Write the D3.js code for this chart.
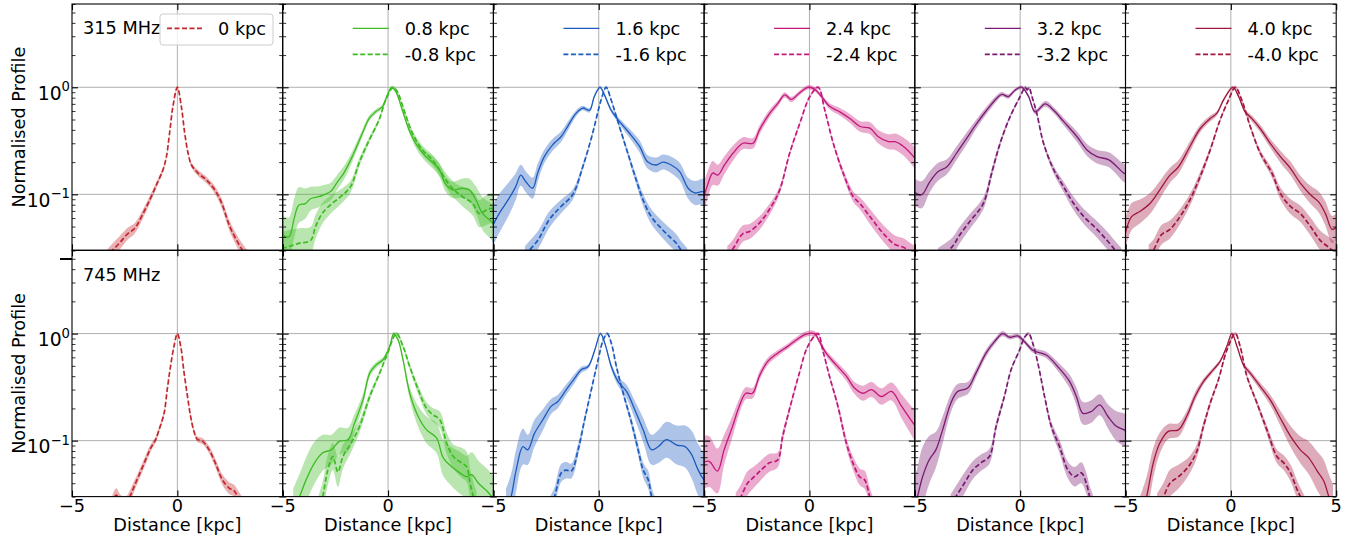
<!DOCTYPE html>
<html><head><meta charset="utf-8">
<script src="https://cdn.jsdelivr.net/npm/d3@7"></script>
<style>body{margin:0;background:#fff}svg{display:block;font-family:"DejaVu Sans",sans-serif}</style>
</head><body><svg id="c" width="1362" height="541"></svg>
<script>
// ---------- labels / categories ----------
const rowLabels = ["315 MHz", "745 MHz"];
const posLabels = ["0 kpc", "0.8 kpc", "1.6 kpc", "2.4 kpc", "3.2 kpc", "4.0 kpc"];
const negLabels = [null, "-0.8 kpc", "-1.6 kpc", "-2.4 kpc", "-3.2 kpc", "-4.0 kpc"];
const colors = ["#c1272d", "#3dbb22", "#1d5bbf", "#c4177a", "#7b1a72", "#a2173f"];
const xTicks = [-5, 0, 5];
const yMajor = [0.1, 1];
const yMajorLabels = [["10", "\u22121"], ["10", "0"]];
const yMinor = [0.03,0.04,0.05,0.06,0.07,0.08,0.09,0.2,0.3,0.4,0.5,0.6,0.7,0.8,0.9,2,3,4,5,6];
const xLabel = "Distance [kpc]";
const yLabel = "Normalised Profile";

// ---------- data: [distance kpc, normalised profile, band half-width (dex, as read)] ----------
// 315 MHz
const f315_0 = [[-3.4,0.025,.045],[-3.22,0.028,.045],[-2.75,0.035,.045],[-2.35,0.043,.04],[-2.03,0.048,.035],[-1.63,0.066,.03],[-1.24,0.095,.025],[-0.92,0.132,.02],[-0.68,0.17,.015],[-0.52,0.224,.012],[-0.37,0.372,.01],[-0.21,0.66,.01],[0,1,.008],[0.19,0.66,.01],[0.35,0.372,.01],[0.51,0.242,.012],[0.67,0.188,.015],[0.98,0.158,.02],[1.38,0.136,.022],[1.78,0.11,.025],[2.1,0.083,.03],[2.49,0.05,.035],[2.89,0.035,.04],[3.2,0.028,.045],[3.4,0.025,.045]];
const f315_p08 = [[-5.05,0.042,.13],[-4.71,0.040,.13],[-4.45,0.06,.13],[-4.24,0.079,.12],[-3.92,0.082,.1],[-3.68,0.091,.08],[-3.29,0.095,.07],[-3.05,0.099,.065],[-2.73,0.106,.06],[-2.41,0.13,.05],[-2.1,0.158,.045],[-1.7,0.225,.035],[-1.22,0.372,.025],[-0.9,0.51,.02],[-0.59,0.59,.015],[-0.27,0.66,.012],[-0.03,0.85,.01],[0.17,1,.01],[0.37,0.91,.01],[0.68,0.61,.015],[1.0,0.40,.02],[1.4,0.28,.03],[1.8,0.224,.035],[2.1,0.20,.04],[2.43,0.17,.045],[2.75,0.123,.05],[3.06,0.11,.055],[3.54,0.114,.065],[3.86,0.11,.075],[4.17,0.089,.09],[4.49,0.066,.11],[4.89,0.056,.12],[5.05,0.05,.12]];
const f315_m08 = [[-5.05,0.031,.11],[-4.6,0.033,.11],[-4.2,0.035,.1],[-3.68,0.037,.09],[-3.44,0.05,.08],[-3.13,0.066,.07],[-2.73,0.08,.06],[-2.25,0.095,.05],[-1.78,0.118,.04],[-1.38,0.195,.03],[-0.9,0.32,.02],[-0.43,0.495,.015],[-0.11,0.76,.01],[0.24,1,.01],[0.44,0.91,.01],[0.76,0.61,.015],[1.16,0.372,.02],[1.63,0.26,.03],[2.1,0.21,.035],[2.5,0.163,.04],[2.9,0.123,.05],[3.22,0.106,.055],[3.54,0.095,.065],[4.02,0.082,.08],[4.33,0.066,.09],[4.65,0.071,.1],[4.89,0.074,.1],[5.05,0.072,.1]];
const f315_p16 = [[-5.05,0.05,.14],[-4.73,0.066,.13],[-4.25,0.092,.11],[-3.94,0.118,.09],[-3.7,0.151,.07],[-3.46,0.131,.07],[-3.14,0.114,.07],[-2.9,0.158,.06],[-2.59,0.224,.045],[-2.19,0.29,.04],[-1.79,0.345,.035],[-1.48,0.43,.03],[-1.08,0.57,.02],[-0.76,0.64,.015],[-0.44,0.61,.015],[-0.21,0.82,.012],[0.06,1,.01],[0.27,0.85,.012],[0.59,0.61,.015],[0.98,0.48,.02],[1.46,0.372,.03],[1.94,0.28,.04],[2.33,0.20,.045],[2.73,0.188,.05],[3.05,0.20,.05],[3.44,0.188,.055],[3.84,0.163,.06],[4.24,0.114,.07],[4.56,0.103,.08],[4.87,0.106,.085],[5.05,0.105,.09]];
const f315_m16 = [[-3.5,0.027,.06],[-3.3,0.030,.06],[-2.9,0.037,.06],[-2.35,0.058,.055],[-1.79,0.077,.045],[-1.24,0.099,.035],[-0.76,0.18,.02],[-0.29,0.372,.012],[0.11,0.76,.01],[0.35,1,.01],[0.59,0.76,.01],[0.98,0.43,.015],[1.38,0.242,.02],[1.78,0.136,.03],[2.1,0.089,.04],[2.49,0.062,.05],[2.97,0.048,.055],[3.37,0.04,.06],[3.68,0.035,.06],[3.92,0.030,.06],[4.2,0.026,.06]];
const f315_p24 = [[-5.05,0.089,.1],[-4.83,0.123,.09],[-4.59,0.158,.08],[-4.35,0.151,.07],[-4.03,0.188,.06],[-3.63,0.242,.05],[-3.16,0.30,.04],[-2.68,0.30,.035],[-2.37,0.40,.03],[-1.89,0.57,.025],[-1.49,0.71,.02],[-1.17,0.85,.018],[-0.86,0.77,.018],[-0.46,0.89,.015],[-0.06,1,.015],[0.25,0.96,.015],[0.57,0.82,.015],[0.97,0.66,.02],[1.44,0.59,.025],[1.92,0.51,.03],[2.4,0.43,.035],[2.87,0.415,.04],[3.27,0.345,.045],[3.75,0.31,.05],[4.06,0.31,.055],[4.46,0.28,.06],[4.94,0.225,.07],[5.05,0.21,.07]];
const f315_m24 = [[-3.9,0.027,.06],[-3.63,0.031,.06],[-3.16,0.043,.055],[-2.84,0.045,.05],[-2.37,0.054,.045],[-1.81,0.077,.035],[-1.41,0.11,.025],[-0.94,0.242,.015],[-0.46,0.46,.01],[0.02,0.82,.01],[0.41,1,.01],[0.73,0.61,.01],[1.13,0.30,.015],[1.6,0.158,.025],[2.08,0.095,.035],[2.4,0.082,.04],[2.87,0.062,.05],[3.51,0.043,.055],[4.06,0.034,.06],[4.46,0.032,.06],[4.78,0.029,.06],[5.05,0.027,.06]];
const f315_p32 = [[-5.05,0.106,.09],[-4.68,0.099,.09],[-4.29,0.131,.07],[-3.89,0.163,.06],[-3.49,0.18,.05],[-3.02,0.242,.045],[-2.54,0.333,.04],[-2.06,0.46,.03],[-1.59,0.61,.025],[-1.11,0.79,.02],[-0.87,0.86,.015],[-0.56,0.82,.015],[-0.24,0.94,.012],[0.08,1,.012],[0.4,0.82,.012],[0.71,0.59,.015],[1.19,0.70,.02],[1.59,0.61,.02],[2.06,0.48,.025],[2.7,0.345,.035],[3.17,0.26,.04],[3.65,0.225,.045],[4.21,0.21,.05],[4.92,0.158,.06],[5.05,0.155,.06]];
const f315_m32 = [[-3.9,0.026,.06],[-3.25,0.032,.06],[-2.86,0.042,.055],[-2.38,0.056,.05],[-1.75,0.082,.04],[-1.35,0.158,.03],[-0.95,0.30,.02],[-0.48,0.53,.012],[0,0.82,.01],[0.24,1,.01],[0.33,0.95,.01],[0.42,0.99,.01],[0.56,0.82,.01],[0.79,0.57,.012],[1.11,0.30,.015],[1.59,0.17,.025],[2.06,0.118,.035],[2.54,0.082,.045],[3.02,0.062,.05],[3.65,0.047,.055],[4.13,0.037,.06],[4.52,0.030,.06],[4.8,0.026,.06]];
const f315_p40 = [[-5.05,0.040,.1],[-4.71,0.062,.09],[-4.32,0.069,.08],[-3.84,0.082,.07],[-3.37,0.11,.06],[-2.89,0.151,.05],[-2.49,0.18,.045],[-1.94,0.28,.035],[-1.46,0.41,.025],[-0.98,0.51,.02],[-0.67,0.57,.015],[-0.35,0.76,.012],[0.1,1,.01],[0.37,0.82,.012],[0.68,0.59,.015],[1.0,0.51,.02],[1.4,0.41,.025],[1.87,0.30,.03],[2.35,0.225,.04],[2.83,0.175,.045],[3.3,0.127,.05],[3.78,0.099,.06],[4.17,0.085,.07],[4.49,0.066,.08],[4.81,0.047,.09],[5.05,0.05,.09]];
const f315_m40 = [[-3.9,0.027,.07],[-3.68,0.030,.07],[-3.29,0.042,.065],[-2.89,0.047,.06],[-2.41,0.062,.05],[-1.94,0.089,.04],[-1.46,0.146,.03],[-0.98,0.26,.02],[-0.51,0.495,.012],[-0.11,0.76,.01],[0.21,1,.01],[0.52,0.76,.01],[0.92,0.43,.015],[1.4,0.242,.02],[1.95,0.158,.03],[2.35,0.102,.04],[2.83,0.077,.05],[3.3,0.066,.055],[3.78,0.05,.06],[4.25,0.037,.065],[4.73,0.031,.07],[5.05,0.027,.07]];
// 745 MHz
const f745_0 = [[-3.1,0.026,.045],[-2.9,0.031,.045],[-2.7,0.027,.045],[-2.45,0.026,.045],[-2.22,0.031,.04],[-2.06,0.037,.035],[-1.83,0.047,.03],[-1.51,0.066,.03],[-1.27,0.085,.025],[-1.03,0.102,.02],[-0.87,0.126,.018],[-0.63,0.18,.015],[-0.48,0.30,.012],[-0.32,0.50,.01],[-0.16,0.76,.01],[0,1,.008],[0.16,0.76,.01],[0.32,0.43,.01],[0.48,0.26,.012],[0.63,0.168,.015],[0.79,0.122,.015],[0.95,0.103,.018],[1.19,0.099,.02],[1.51,0.082,.025],[1.83,0.06,.03],[2.14,0.043,.035],[2.46,0.036,.04],[2.7,0.034,.04],[2.86,0.030,.045],[3.1,0.025,.05]];
const f745_p08 = [[-4.5,0.022,.15],[-4.2,0.030,.15],[-3.89,0.043,.15],[-3.49,0.062,.14],[-3.1,0.077,.12],[-2.7,0.082,.1],[-2.3,0.099,.09],[-1.9,0.102,.08],[-1.59,0.146,.06],[-1.19,0.24,.04],[-0.87,0.427,.025],[-0.56,0.51,.02],[-0.24,0.57,.015],[0.08,0.76,.012],[0.27,1,.012],[0.48,0.87,.012],[0.71,0.57,.02],[1.03,0.277,.04],[1.43,0.168,.07],[1.83,0.126,.09],[2.3,0.106,.1],[2.62,0.069,.12],[3.02,0.057,.13],[3.41,0.05,.14],[3.73,0.046,.14],[3.97,0.048,.15],[4.29,0.04,.15],[4.68,0.034,.15],[4.92,0.030,.15],[5.05,0.028,.15]];
const f745_m08 = [[-3.3,0.022,.1],[-3.1,0.030,.1],[-2.86,0.053,.1],[-2.62,0.071,.09],[-2.38,0.051,.1],[-2.14,0.071,.08],[-1.75,0.095,.06],[-1.35,0.136,.04],[-0.87,0.258,.025],[-0.4,0.427,.015],[-0.08,0.61,.012],[0.4,1,.012],[0.71,0.76,.015],[1.03,0.49,.02],[1.43,0.30,.03],[1.83,0.20,.04],[2.14,0.174,.045],[2.46,0.157,.055],[2.78,0.095,.07],[3.1,0.071,.08],[3.49,0.062,.1],[3.73,0.057,.1],[3.89,0.04,.1],[4.05,0.030,.1],[4.2,0.024,.1]];
const f745_p16 = [[-4.4,0.022,.15],[-4.16,0.030,.15],[-3.92,0.053,.14],[-3.6,0.088,.12],[-3.37,0.082,.1],[-3.05,0.117,.09],[-2.65,0.157,.07],[-2.25,0.21,.05],[-1.94,0.232,.045],[-1.54,0.30,.035],[-1.14,0.383,.03],[-0.83,0.46,.02],[-0.51,0.49,.015],[-0.19,0.70,.012],[0.08,1,.01],[0.29,0.81,.012],[0.6,0.49,.02],[0.92,0.356,.03],[1.32,0.288,.045],[1.71,0.194,.06],[2.11,0.126,.08],[2.51,0.082,.1],[2.83,0.088,.11],[3.22,0.102,.12],[3.7,0.091,.13],[4.1,0.088,.14],[4.41,0.074,.16],[4.65,0.057,.17],[4.89,0.046,.18],[5.05,0.042,.18]];
const f745_m16 = [[-2.3,0.025,.06],[-2.1,0.030,.06],[-1.78,0.05,.06],[-1.54,0.053,.055],[-1.3,0.052,.05],[-0.98,0.082,.04],[-0.67,0.157,.025],[-0.35,0.30,.015],[-0.03,0.57,.01],[0.21,0.87,.01],[0.4,1,.01],[0.6,0.81,.01],[0.84,0.49,.015],[1.16,0.277,.02],[1.56,0.146,.03],[1.87,0.082,.04],[2.11,0.053,.05],[2.35,0.043,.06],[2.51,0.030,.06],[2.65,0.025,.06]];
const f745_p24 = [[-5.05,0.062,.18],[-4.76,0.064,.17],[-4.37,0.052,.15],[-4.05,0.082,.1],[-3.65,0.136,.07],[-3.33,0.21,.05],[-3.02,0.277,.04],[-2.7,0.277,.035],[-2.38,0.40,.03],[-1.98,0.55,.025],[-1.51,0.656,.02],[-1.03,0.76,.018],[-0.63,0.87,.018],[-0.16,0.99,.018],[0.24,1,.018],[0.48,0.84,.018],[0.79,0.656,.02],[1.27,0.51,.025],[1.75,0.40,.03],[2.14,0.31,.04],[2.54,0.277,.05],[2.94,0.30,.05],[3.41,0.258,.055],[3.89,0.288,.06],[4.37,0.21,.08],[4.92,0.146,.1],[5.05,0.135,.11]];
const f745_m24 = [[-3.5,0.025,.08],[-3.25,0.030,.08],[-2.94,0.040,.08],[-2.62,0.046,.07],[-2.3,0.053,.065],[-1.9,0.062,.06],[-1.51,0.066,.05],[-1.27,0.11,.035],[-0.87,0.224,.02],[-0.48,0.427,.012],[-0.08,0.76,.01],[0.4,1,.01],[0.63,0.70,.01],[0.95,0.40,.015],[1.35,0.21,.025],[1.75,0.095,.035],[2.06,0.062,.045],[2.38,0.046,.055],[2.62,0.043,.06],[2.86,0.030,.06],[3.0,0.025,.06]];
const f745_p32 = [[-5.05,0.022,.2],[-4.87,0.030,.2],[-4.63,0.046,.2],[-4.32,0.066,.16],[-4.0,0.082,.12],[-3.68,0.126,.09],[-3.29,0.224,.06],[-2.97,0.288,.05],[-2.49,0.31,.04],[-2.1,0.427,.03],[-1.62,0.656,.025],[-1.22,0.84,.02],[-0.83,1.0,.018],[-0.51,0.925,.015],[-0.11,0.95,.015],[0.21,0.84,.015],[0.6,0.70,.018],[1.24,0.63,.022],[1.79,0.49,.03],[2.35,0.356,.045],[2.67,0.258,.06],[2.98,0.18,.075],[3.38,0.187,.075],[3.78,0.216,.07],[4.17,0.168,.08],[4.57,0.136,.1],[4.94,0.126,.11],[5.05,0.12,.11]];
const f745_m32 = [[-3.3,0.025,.07],[-3.05,0.030,.07],[-2.65,0.040,.07],[-2.25,0.053,.06],[-1.86,0.062,.055],[-1.46,0.071,.05],[-1.14,0.136,.03],[-0.75,0.258,.02],[-0.43,0.46,.012],[-0.03,0.70,.01],[0.21,0.925,.01],[0.4,1,.01],[0.6,0.81,.01],[0.84,0.53,.012],[1.16,0.258,.02],[1.48,0.136,.03],[1.87,0.088,.045],[2.27,0.053,.055],[2.59,0.046,.065],[2.9,0.05,.07],[3.14,0.040,.07],[3.3,0.030,.07],[3.45,0.025,.07]];
const f745_p40 = [[-4.3,0.02,.13],[-4.0,0.030,.13],[-3.68,0.062,.1],[-3.37,0.095,.07],[-2.97,0.122,.05],[-2.49,0.126,.045],[-2.1,0.168,.035],[-1.7,0.258,.03],[-1.3,0.356,.02],[-0.83,0.46,.015],[-0.51,0.55,.012],[-0.19,0.76,.01],[0.05,1,.01],[0.29,0.76,.01],[0.6,0.51,.015],[0.92,0.427,.02],[1.4,0.32,.025],[1.87,0.24,.035],[2.35,0.162,.05],[2.83,0.11,.07],[3.3,0.082,.09],[3.7,0.069,.11],[4.1,0.052,.13],[4.41,0.042,.14],[4.65,0.030,.15],[4.85,0.024,.15]];
const f745_m40 = [[-3.5,0.024,.09],[-3.2,0.030,.09],[-2.89,0.040,.09],[-2.49,0.046,.08],[-2.02,0.057,.06],[-1.62,0.079,.045],[-1.3,0.136,.03],[-0.98,0.224,.02],[-0.59,0.37,.012],[-0.19,0.70,.01],[0.21,1,.01],[0.44,0.76,.01],[0.76,0.40,.015],[1.24,0.224,.02],[1.71,0.126,.03],[2.19,0.071,.045],[2.51,0.062,.05],[2.83,0.05,.055],[3.14,0.035,.06],[3.3,0.030,.06],[3.5,0.025,.06]];

const solidSeries = [
  [null, f315_p08, f315_p16, f315_p24, f315_p32, f315_p40],
  [null, f745_p08, f745_p16, f745_p24, f745_p32, f745_p40]
];
const dashedSeries = [
  [f315_0, f315_m08, f315_m16, f315_m24, f315_m32, f315_m40],
  [f745_0, f745_m08, f745_m16, f745_m24, f745_m32, f745_m40]
];

// ---------- layout ----------
const svg = d3.select("#c");
const L = 72, W = 210.7, H = 246.3, tops = [4, 250.3];
const FS = 17.7;
const BAND = 1.4; // visual calibration of band read-outs
const x = d3.scaleLinear().domain([-5, 5]).range([0, W]);
const y = d3.scaleLog().domain([0.03, 6]).range([H, 0]);

const area = d3.area().curve(d3.curveCatmullRom.alpha(0.5))
  .x(d => x(d[0])).y0(d => y(d[1] / Math.pow(10, BAND * d[2]))).y1(d => y(d[1] * Math.pow(10, BAND * d[2])));
const line = d3.line().curve(d3.curveCatmullRom.alpha(0.5)).x(d => x(d[0])).y(d => y(d[1]));

const defs = svg.append("defs");
defs.append("clipPath").attr("id", "pclip").append("rect").attr("width", W).attr("height", H);

for (let r = 0; r < 2; r++) {
  for (let c = 0; c < 6; c++) {
    const g = svg.append("g").attr("transform", `translate(${L + c * W},${tops[r]})`);
    const col = colors[c];
    const grid = g.append("g").attr("stroke", "#b0b0b0").attr("stroke-width", 1);
    yMajor.forEach(v => grid.append("line").attr("x1", 0).attr("x2", W).attr("y1", y(v)).attr("y2", y(v)));
    grid.append("line").attr("x1", x(0)).attr("x2", x(0)).attr("y1", 0).attr("y2", H);

    const plot = g.append("g").attr("clip-path", "url(#pclip)");
    const sol = solidSeries[r][c], das = dashedSeries[r][c];
    if (sol) plot.append("path").attr("d", area(sol)).attr("fill", col).attr("fill-opacity", 0.36);
    if (das) plot.append("path").attr("d", area(das)).attr("fill", col).attr("fill-opacity", 0.36);
    if (sol) plot.append("path").attr("d", line(sol)).attr("fill", "none").attr("stroke", col).attr("stroke-width", 1.3);
    if (das) plot.append("path").attr("d", line(das)).attr("fill", "none").attr("stroke", col).attr("stroke-width", 1.7).attr("stroke-dasharray", "5,2.5");

    const tk = (axis, tr) => {
      const a = g.append("g").attr("transform", tr).call(axis);
      a.select(".domain").remove();
      a.selectAll("text").remove();
      a.selectAll("line").attr("stroke", "#000");
      return a;
    };
    tk(d3.axisLeft(y).tickValues(yMajor).tickSize(-6), "translate(0,0)").selectAll("line").attr("stroke-width", 1.1);
    tk(d3.axisRight(y).tickValues(yMajor).tickSize(-6), `translate(${W},0)`).selectAll("line").attr("stroke-width", 1.1);
    tk(d3.axisLeft(y).tickValues(yMinor).tickSize(-3.5), "translate(0,0)").selectAll("line").attr("stroke-width", 0.8);
    tk(d3.axisRight(y).tickValues(yMinor).tickSize(-3.5), `translate(${W},0)`).selectAll("line").attr("stroke-width", 0.8);
    tk(d3.axisBottom(x).tickValues(xTicks).tickSize(-6), `translate(0,${H})`).selectAll("line").attr("stroke-width", 1.1);
    tk(d3.axisTop(x).tickValues(xTicks).tickSize(-6), "translate(0,0)").selectAll("line").attr("stroke-width", 1.1);

    g.append("rect").attr("width", W).attr("height", H).attr("fill", "none").attr("stroke", "#000").attr("stroke-width", 1.1);

    if (r === 1) {
      xTicks.forEach(t => {
        if (t === 5 && c !== 5) return;
        g.append("text").attr("x", x(t)).attr("y", H + 15).attr("text-anchor", "middle")
          .attr("font-size", FS).text(t < 0 ? "\u2212" + Math.abs(t) : String(t));
      });
      g.append("text").attr("x", W / 2).attr("y", H + 34.5).attr("text-anchor", "middle")
        .attr("font-size", FS).text(xLabel);
    }
    if (c === 0) {
      yMajor.forEach((v, i) => {
        const t = g.append("text").attr("x", -2).attr("y", y(v) + 12.5).attr("text-anchor", "end").attr("font-size", 18.8);
        t.append("tspan").text(yMajorLabels[i][0]);
        t.append("tspan").attr("dy", -8.5).attr("font-size", 13.2).text(yMajorLabels[i][1]);
      });
      g.append("text").attr("transform", `translate(${25 - L},${H / 2}) rotate(-90)`).attr("text-anchor", "middle")
        .attr("font-size", FS).text(yLabel);
      g.append("text").attr("x", 11).attr("y", 30.4).attr("font-size", FS).text(rowLabels[r]);
    }

    if (r === 0) {
      if (c === 0) {
        g.append("rect").attr("x", 88).attr("y", 10).attr("width", 113).attr("height", 31).attr("rx", 3)
          .attr("fill", "#fff").attr("fill-opacity", 0.8).attr("stroke", "#cccccc").attr("stroke-width", 1);
        g.append("line").attr("x1", 95).attr("x2", 130).attr("y1", 24.3).attr("y2", 24.3)
          .attr("stroke", col).attr("stroke-width", 1.7).attr("stroke-dasharray", "5,2.5");
        g.append("text").attr("x", 146).attr("y", 31).attr("font-size", FS).text(posLabels[0]);
      } else {
        g.append("line").attr("x1", 70).attr("x2", 106).attr("y1", 24.3).attr("y2", 24.3)
          .attr("stroke", col).attr("stroke-width", 1.3);
        g.append("text").attr("x", 122).attr("y", 31).attr("font-size", FS).text(posLabels[c]);
        g.append("line").attr("x1", 70).attr("x2", 106).attr("y1", 50.3).attr("y2", 50.3)
          .attr("stroke", col).attr("stroke-width", 1.7).attr("stroke-dasharray", "5,2.5");
        g.append("text").attr("x", 122).attr("y", 57).attr("font-size", FS).text(negLabels[c]);
      }
    }
  }
}
svg.append("line").attr("x1", 60).attr("x2", 72).attr("y1", 259).attr("y2", 259).attr("stroke", "#000").attr("stroke-width", 2);
</script></body></html>
